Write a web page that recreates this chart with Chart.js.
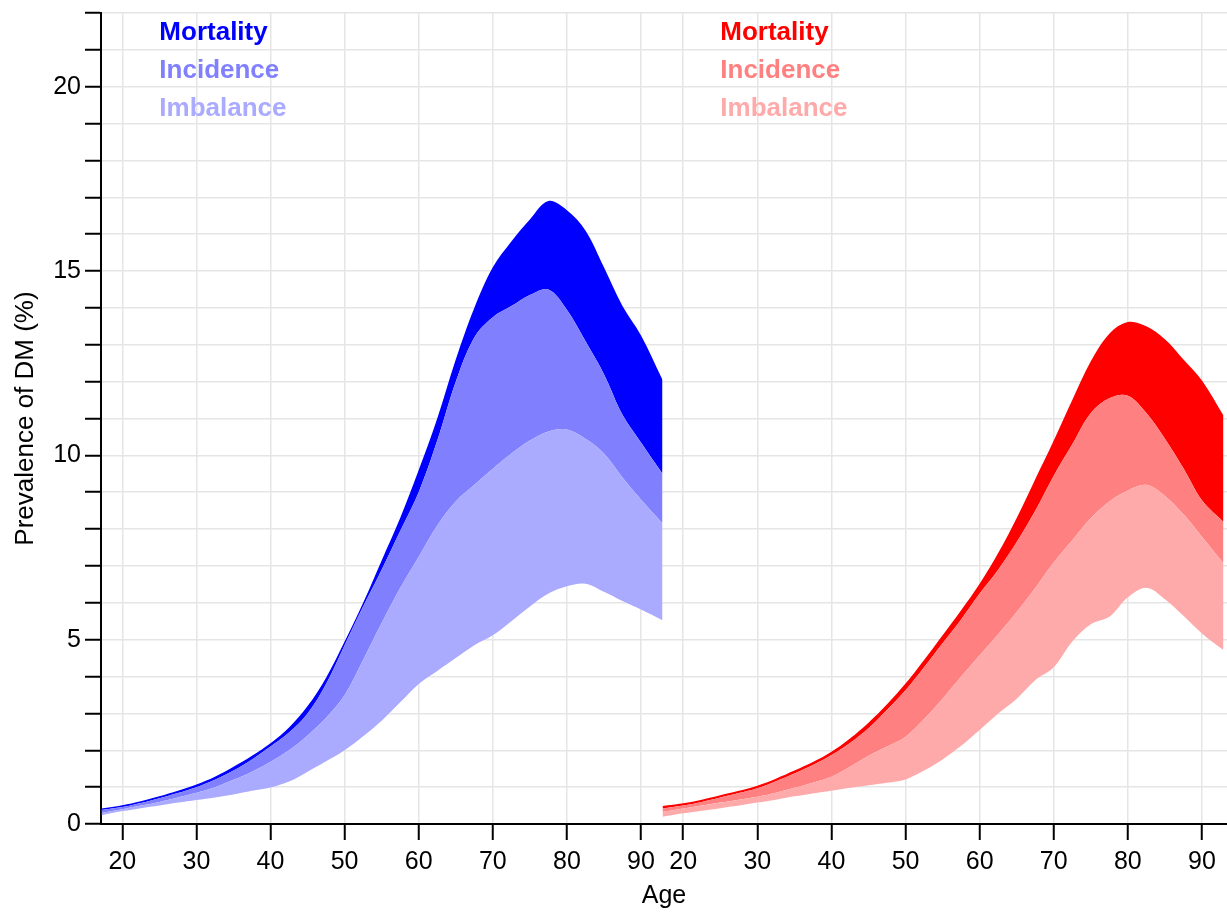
<!DOCTYPE html>
<html>
<head>
<meta charset="utf-8">
<title>Prevalence of DM by age</title>
<script src="https://cdn.jsdelivr.net/npm/chart.js@4.4.1/dist/chart.umd.min.js"></script>
<style>
  html, body { margin: 0; padding: 0; background: #fff; }
  #wrap { width: 1227px; height: 913px; }
</style>
</head>
<body>
<div id="wrap"><canvas id="dmChart" width="1227" height="913"></canvas></div>
<script>
// Ages sampled along each curve (same grid for both panels)
const ages = [17.2, 20, 22.5, 25, 27.5, 30, 32.5, 35, 37.5, 40, 42.5, 45, 47.5, 50, 52.5, 55, 57.5, 60, 62.5, 65, 67.5, 70, 72.5, 75, 77.5, 80, 82.5, 85, 87.5, 90, 92.9];

// Left panel (blue): lower edge and the upper edge of each band, prevalence in %
const menLow  = [0.24, 0.35, 0.43, 0.50, 0.58, 0.65, 0.72, 0.80, 0.90, 0.99, 1.15, 1.42, 1.70, 2.00, 2.38, 2.80, 3.30, 3.80, 4.15, 4.50, 4.85, 5.12, 5.50, 5.90, 6.25, 6.45, 6.52, 6.30, 6.05, 5.82, 5.53];
const menImb  = [0.30, 0.40, 0.50, 0.60, 0.72, 0.85, 1.00, 1.20, 1.42, 1.69, 2.00, 2.40, 2.88, 3.50, 4.45, 5.45, 6.40, 7.25, 8.10, 8.75, 9.20, 9.64, 10.05, 10.40, 10.65, 10.70, 10.45, 10.05, 9.40, 8.80, 8.15];
const menInc  = [0.38, 0.46, 0.57, 0.70, 0.84, 1.00, 1.20, 1.45, 1.75, 2.10, 2.48, 3.00, 3.80, 4.85, 5.90, 6.90, 7.95, 9.00, 10.40, 12.00, 13.20, 13.75, 14.05, 14.35, 14.50, 13.95, 13.10, 12.20, 11.10, 10.35, 9.50];
const menMort = [0.42, 0.51, 0.62, 0.75, 0.90, 1.07, 1.28, 1.55, 1.85, 2.19, 2.62, 3.20, 3.97, 4.95, 6.00, 7.15, 8.30, 9.60, 11.00, 12.60, 14.00, 15.10, 15.80, 16.40, 16.90, 16.65, 16.10, 15.10, 14.05, 13.25, 12.05];

// Right panel (red)
const womenLow  = [0.20, 0.29, 0.36, 0.43, 0.50, 0.58, 0.66, 0.75, 0.83, 0.90, 0.98, 1.05, 1.12, 1.21, 1.45, 1.75, 2.12, 2.55, 3.00, 3.40, 3.90, 4.25, 4.95, 5.42, 5.62, 6.15, 6.41, 6.10, 5.65, 5.17, 4.72];
const womenImb  = [0.33, 0.42, 0.50, 0.58, 0.66, 0.74, 0.85, 0.98, 1.12, 1.28, 1.55, 1.85, 2.10, 2.37, 2.85, 3.40, 4.00, 4.58, 5.15, 5.75, 6.40, 7.10, 7.70, 8.30, 8.75, 9.05, 9.20, 8.90, 8.40, 7.79, 7.07];
const womenInc  = [0.42, 0.50, 0.60, 0.72, 0.84, 0.97, 1.16, 1.37, 1.60, 1.87, 2.20, 2.60, 3.10, 3.63, 4.25, 4.90, 5.55, 6.25, 6.90, 7.65, 8.50, 9.45, 10.30, 11.15, 11.55, 11.62, 11.15, 10.45, 9.65, 8.78, 8.19];
const womenMort = [0.49, 0.56, 0.66, 0.78, 0.90, 1.04, 1.23, 1.45, 1.68, 1.96, 2.32, 2.75, 3.25, 3.81, 4.45, 5.12, 5.80, 6.52, 7.35, 8.30, 9.35, 10.40, 11.50, 12.55, 13.30, 13.62, 13.50, 13.15, 12.60, 12.03, 11.08];

const xTickLabels = [20, 30, 40, 50, 60, 70, 80, 90];
const yTickLabels = [0, 5, 10, 15, 20];
const legendLabels = ['Mortality', 'Incidence', 'Imbalance'];

// mortality, incidence, imbalance
const blues = ['#0000ff', '#8080ff', '#aaaaff'];
const reds = ['#ff0000', '#ff8080', '#ffaaaa'];

// both panels share one x axis, the second one shifted right
const SHIFT = 75.7;
const FONT = '"Liberation Sans", Arial, Helvetica, sans-serif';

function bands(low, imb, inc, mort, colors, shift) {
    const pts = vals => ages.map((a, i) => ({ x: a + shift, y: vals[i] }));
    return [
        { data: pts(low), fill: false },
        { data: pts(imb), fill: '-1', backgroundColor: colors[2] },
        { data: pts(inc), fill: '-1', backgroundColor: colors[1] },
        { data: pts(mort), fill: '-1', backgroundColor: colors[0] }
    ];
}

const xTickValues = xTickLabels.concat(xTickLabels.map(v => v + SHIFT));

// Coloured text legend in the top-left of each panel
const panelLegend = {
    id: 'panelLegend',
    afterDraw(chart) {
        const { ctx, scales: { x, y } } = chart;
        ctx.save();
        ctx.font = 'bold 26px ' + FONT;
        ctx.textBaseline = 'middle';
        ctx.textAlign = 'left';
        [[0, blues], [SHIFT, reds]].forEach(([shift, colors]) => {
            legendLabels.forEach((label, i) => {
                ctx.fillStyle = colors[i];
                ctx.fillText(label, x.getPixelForValue(25 + shift), y.getPixelForValue(21.5 - i * 1.03) + 1);
            });
        });
        ctx.restore();
    }
};

const gridColor = '#e5e5e5';

new Chart(document.getElementById('dmChart'), {
    type: 'line',
    data: {
        datasets: bands(menLow, menImb, menInc, menMort, blues, 0)
            .concat(bands(womenLow, womenImb, womenInc, womenMort, reds, SHIFT))
    },
    options: {
        responsive: false,
        animation: false,
        devicePixelRatio: 1,
        layout: { padding: { top: 13, left: 0, right: 0, bottom: 0 } },
        elements: {
            point: { radius: 0 },
            line: { borderWidth: 0, borderColor: 'rgba(0,0,0,0)', tension: 0.35 }
        },
        plugins: {
            legend: { display: false },
            tooltip: { enabled: false }
        },
        scales: {
            x: {
                type: 'linear',
                min: 17.125,
                max: 169.08,
                z: 1,
                afterBuildTicks: axis => { axis.ticks = xTickValues.map(v => ({ value: v })); },
                afterFit: scale => { scale.height = 89; scale.paddingLeft = 0; scale.paddingRight = 0; },
                grid: { color: gridColor, lineWidth: 1.5, tickColor: '#000', tickLength: 16, tickWidth: 2 },
                border: { color: '#000', width: 2 },
                ticks: {
                    color: '#000',
                    font: { size: 25, family: FONT },
                    padding: 7,
                    maxRotation: 0,
                    autoSkip: false,
                    callback: (v, i) => xTickLabels[i % xTickLabels.length]
                },
                title: { display: true, text: 'Age', color: '#000', font: { size: 25, family: FONT }, padding: { top: 0, bottom: 2 } }
            },
            y: {
                min: 0,
                max: 22,
                z: 1,
                afterFit: scale => { scale.width = 101; scale.paddingTop = 0; scale.paddingBottom = 0; },
                grid: {
                    color: ctx => (ctx.tick && ctx.tick.value === 0) ? 'rgba(0,0,0,0)' : gridColor,
                    lineWidth: 1.5,
                    tickColor: '#000',
                    tickLength: 16,
                    tickWidth: 2
                },
                border: { color: '#000', width: 2 },
                ticks: {
                    stepSize: 1,
                    maxTicksLimit: 40,
                    autoSkip: false,
                    color: '#000',
                    font: { size: 25, family: FONT },
                    padding: 4,
                    callback: v => yTickLabels.includes(v) ? v : ''
                },
                title: { display: true, text: 'Prevalence of DM (%)', color: '#000', font: { size: 26, family: FONT }, padding: { top: 10, bottom: 0 } }
            }
        }
    },
    plugins: [panelLegend]
});
</script>
</body>
</html>
